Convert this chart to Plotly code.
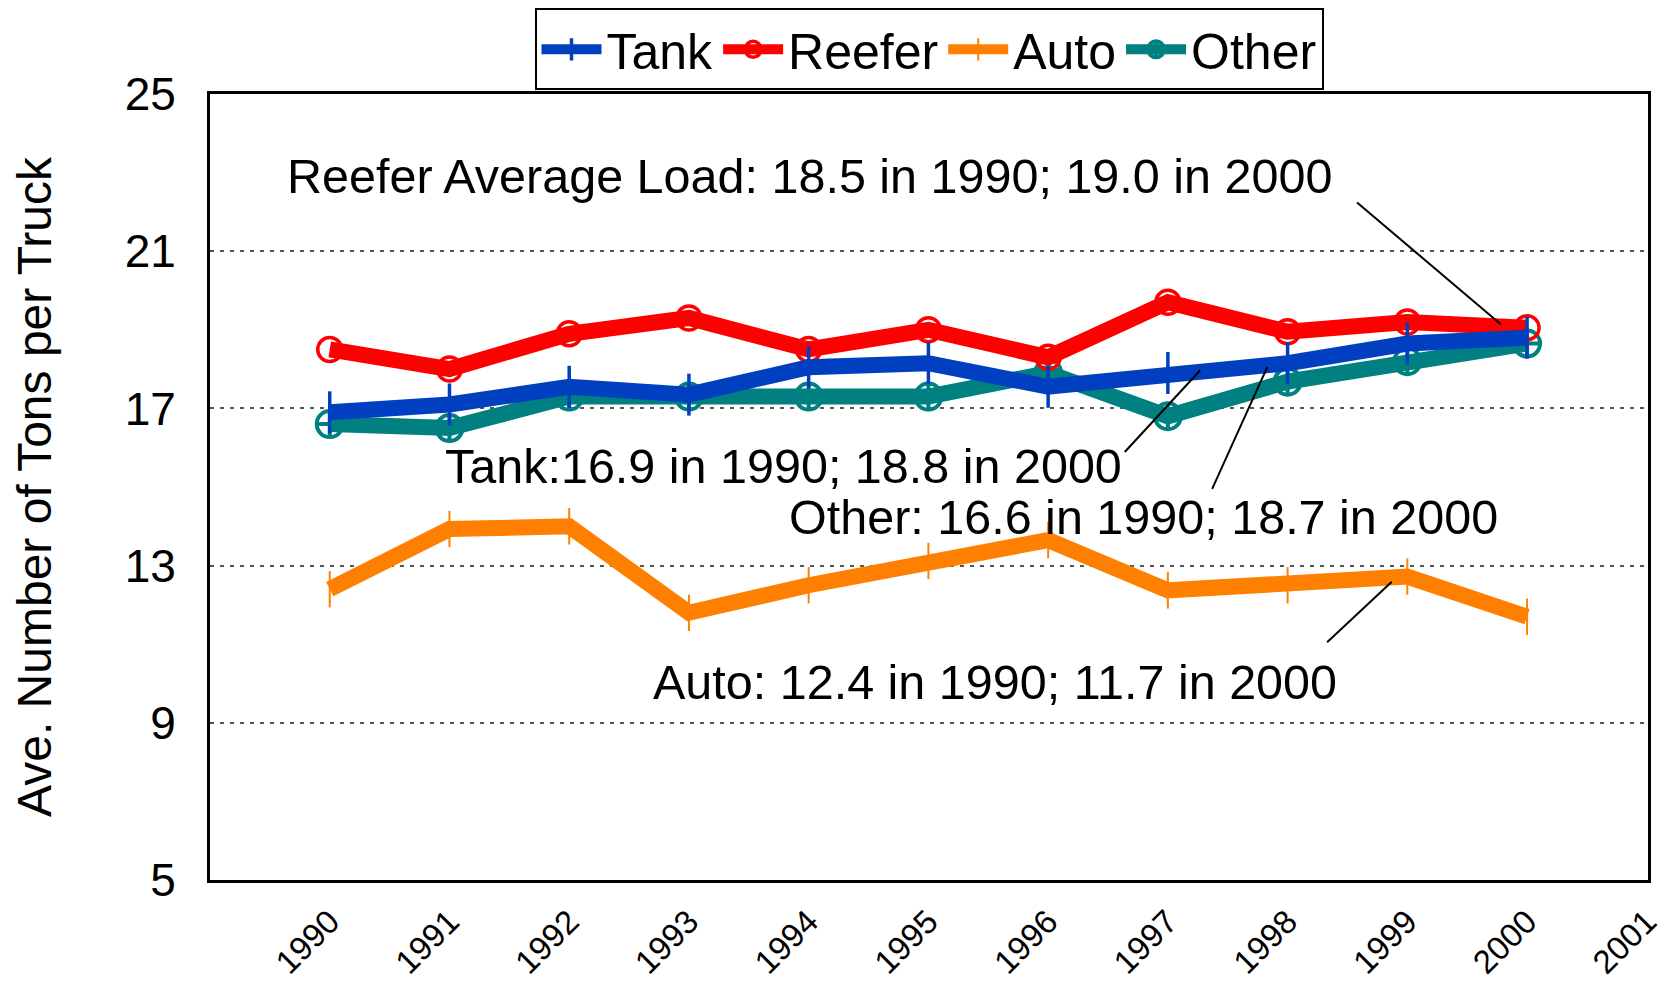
import plotly.graph_objects as go

years = [1990, 1991, 1992, 1993, 1994, 1995, 1996, 1997, 1998, 1999, 2000]
tank = [16.9, 17.1, 17.55, 17.35, 18.05, 18.15, 17.55, 17.9, 18.15, 18.65, 18.8]
reefer = [18.5, 18.0, 18.9, 19.3, 18.5, 19.0, 18.3, 19.7, 18.95, 19.2, 19.05]
auto = [12.4, 13.93, 14.0, 11.8, 12.5, 13.12, 13.65, 12.37, 12.5, 12.72, 11.7]
other = [16.6, 16.5, 17.3, 17.3, 17.3, 17.3, 17.9, 16.8, 17.68, 18.2, 18.65]

x_ticks = list(range(1990, 2002))
y_ticks = [5, 9, 13, 17, 21, 25]

FONT = "Arial, 'Liberation Sans', sans-serif"

fig = go.Figure()

# drawing order: Other, Auto, Reefer, Tank on top; legend order via legendrank
series = [
    ("Other", other, "#008080", "circle-cross-open", 26, 4),
    ("Auto", auto, "#FF8000", "line-ns-open", 26, 2),
    ("Reefer", reefer, "#FF0000", "circle-open", 24, 3.5),
    ("Tank", tank, "#0040C0", "line-ns-open", 30, 3.5),
]
rank = {"Tank": 1, "Reefer": 2, "Auto": 3, "Other": 4}

for name, vals, color, symbol, msize, mwidth in series:
    fig.add_trace(go.Scatter(
        x=years, y=vals, name=name, mode="lines+markers",
        line=dict(color=color, width=16),
        marker=dict(symbol=symbol, size=msize, color=color,
                    line=dict(color=color, width=mwidth)),
        legendrank=rank[name],
    ))

# text labels with leader lines
labels = [
    ("Reefer Average Load: 18.5 in 1990; 19.0 in 2000", 1994.01, 22.92, 1998.58, 22.24, 1999.78, 19.14),
    ("Tank:16.9 in 1990; 18.8 in 2000", 1993.79, 15.54, 1996.64, 15.89, 1997.27, 17.97),
    ("Other: 16.6 in 1990; 18.7 in 2000", 1996.8, 14.24, 1997.37, 14.95, 1997.83, 18.05),
    ("Auto: 12.4 in 1990; 11.7 in 2000", 1995.56, 10.05, 1998.33, 11.05, 1998.87, 12.59),
]
for text, tx, ty, x0, y0, x1, y1 in labels:
    fig.add_annotation(x=tx, y=ty, text=text, showarrow=False,
                       font=dict(family=FONT, size=48.5, color="black"))
    fig.add_shape(type="line", x0=x0, y0=y0, x1=x1, y1=y1,
                  line=dict(color="black", width=2))

# the page body adds an 8px margin, so the figure is offset by 8px
fig.update_layout(
    width=1658, height=976,
    margin=dict(l=202, r=18, t=86, b=104, autoexpand=False),
    paper_bgcolor="white", plot_bgcolor="white",
    font=dict(family=FONT, size=44, color="black"),
    showlegend=True,
    legend=dict(
        orientation="h", x=0.5, xanchor="center", y=1.109, yanchor="top",
        bordercolor="black", borderwidth=2, font=dict(size=50),
        itemwidth=60, tracegroupgap=0,
    ),
    xaxis=dict(
        range=[1989, 2001.01], tickvals=x_ticks, ticktext=[str(v) for v in x_ticks],
        tickangle=-45, tickfont=dict(size=33), showgrid=False, zeroline=False,
        showline=True, mirror=True, linecolor="black", linewidth=3,
        ticks="", ticklabelstandoff=6, ticklabeloverflow="allow",
    ),
    yaxis=dict(
        range=[5, 25], tickvals=y_ticks, tickfont=dict(size=46),
        showgrid=True, gridcolor="#555555", griddash="4px,6px", gridwidth=1.5,
        zeroline=False, showline=True, mirror=True, linecolor="black", linewidth=3,
        ticks="", ticklabelstandoff=22,
        title=dict(text="Ave. Number of Tons per Truck", font=dict(size=48), standoff=62),
    ),
)

fig.write_html("out.html")
